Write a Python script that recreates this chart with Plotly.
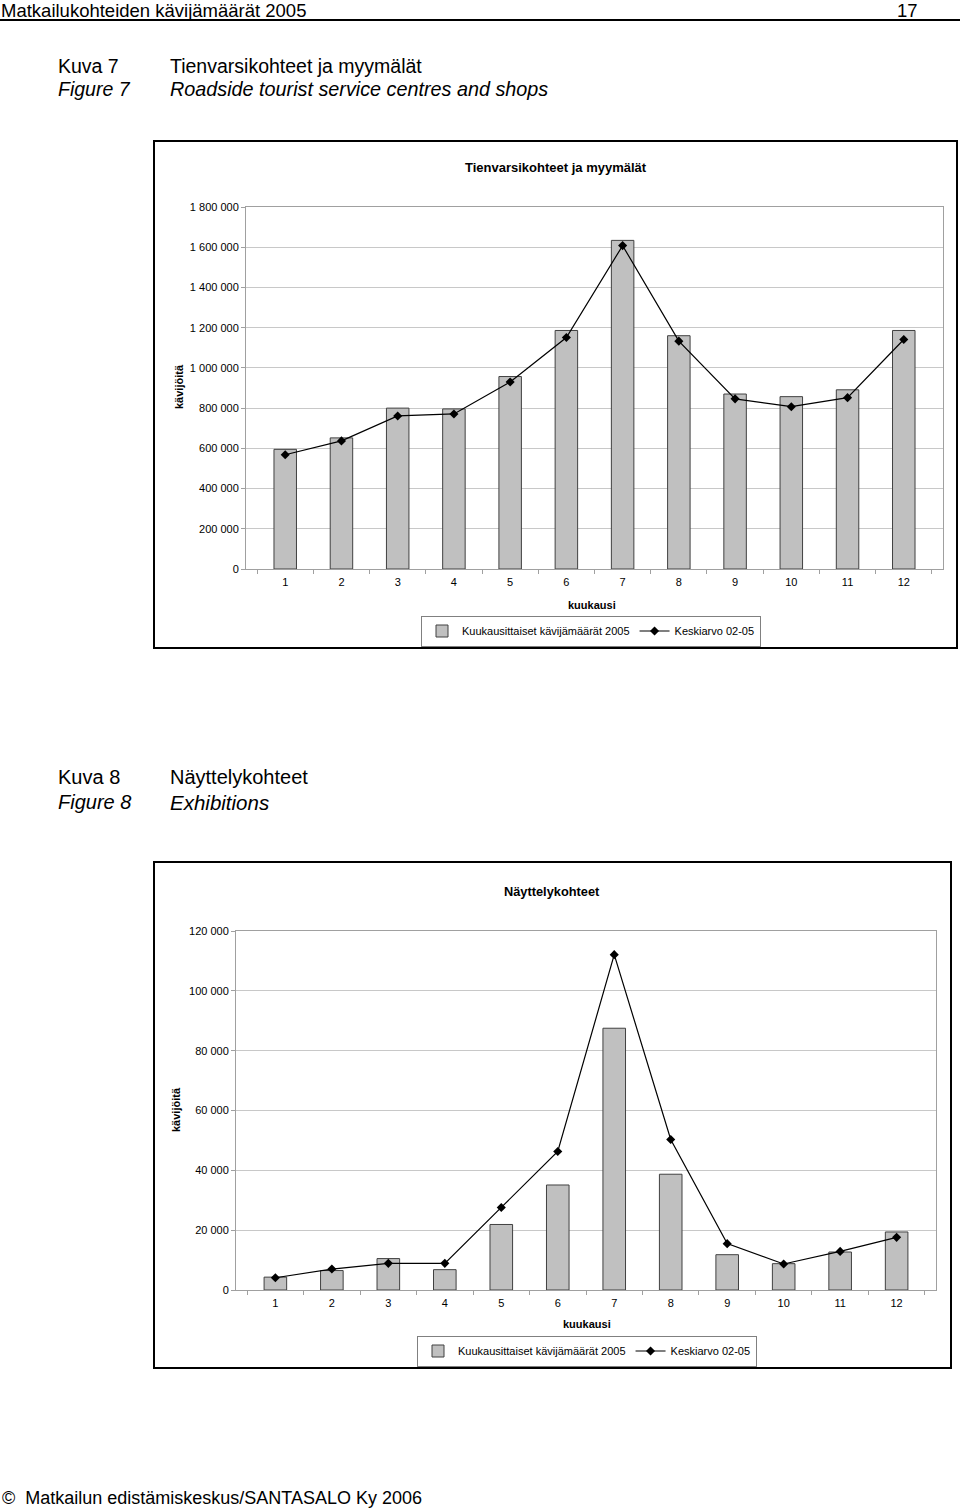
import plotly.graph_objects as go

# ---------------- data ----------------
months = ["1", "2", "3", "4", "5", "6", "7", "8", "9", "10", "11", "12"]

roadside_2005 = [595000, 652000, 800000, 796000, 957000, 1186000,
                 1634000, 1160000, 870000, 857000, 891000, 1186000]
roadside_avg = [568000, 637000, 761000, 771000, 930000, 1151000,
                1608000, 1133000, 846000, 807000, 852000, 1141000]

exhib_2005 = [4300, 6500, 10500, 6800, 21900, 35100,
              87500, 38700, 11800, 8800, 12700, 19400]
exhib_avg = [4100, 7000, 8900, 8900, 27600, 46300,
             112100, 50300, 15500, 8700, 12900, 17600]

top_tickvals = [0, 200000, 400000, 600000, 800000, 1000000,
                1200000, 1400000, 1600000, 1800000]
top_ticktext = ["0", "200 000", "400 000", "600 000", "800 000", "1 000 000",
                "1 200 000", "1 400 000", "1 600 000", "1 800 000"]
bot_tickvals = [0, 20000, 40000, 60000, 80000, 100000, 120000]
bot_ticktext = ["0", "20 000", "40 000", "60 000", "80 000", "100 000", "120 000"]

bar_name = "Kuukausittaiset kävijämäärät 2005"
line_name = "Keskiarvo 02-05"

# ---------------- geometry helpers ----------------
W, H = 960, 1510


def px(x):
    return x / W


def py(y):
    return 1 - y / H


CHART_FONT = "Liberation Sans, Arial, sans-serif"
NARROW_FONT = "Liberation Sans Narrow, Arial Narrow, Liberation Sans, sans-serif"

BAR_FILL = "#c0c0c0"
BAR_LINE = "#404040"
GRID = "#c8c8c8"
AXIS = "#a0a0a0"

fig = go.Figure()

# top chart traces
fig.add_trace(go.Bar(x=months, y=roadside_2005, name=bar_name,
                     marker=dict(color=BAR_FILL, line=dict(color=BAR_LINE, width=1)),
                     xaxis="x", yaxis="y", legend="legend"))
fig.add_trace(go.Scatter(x=months, y=roadside_avg, name=line_name, mode="lines+markers",
                         line=dict(color="black", width=1.2),
                         marker=dict(symbol="diamond", size=7, color="black"),
                         xaxis="x", yaxis="y", legend="legend"))

# bottom chart traces
fig.add_trace(go.Bar(x=months, y=exhib_2005, name=bar_name,
                     marker=dict(color=BAR_FILL, line=dict(color=BAR_LINE, width=1)),
                     xaxis="x2", yaxis="y2", legend="legend2"))
fig.add_trace(go.Scatter(x=months, y=exhib_avg, name=line_name, mode="lines+markers",
                         line=dict(color="black", width=1.2),
                         marker=dict(symbol="diamond", size=7, color="black"),
                         xaxis="x2", yaxis="y2", legend="legend2"))

xaxis_common = dict(type="category", showgrid=False, showline=True, linecolor=AXIS,
                    linewidth=1, mirror=True, ticks="outside", tickson="boundaries",
                    ticklen=4, tickcolor=AXIS, tickfont=dict(size=11, color="black"),
                    ticklabelstandoff=3, fixedrange=True)
yaxis_common = dict(showgrid=True, gridcolor=GRID, gridwidth=1, showline=True,
                    linecolor=AXIS, linewidth=1, mirror=True, ticks="outside",
                    ticklen=4, tickcolor=AXIS, tickfont=dict(size=11, color="black"),
                    zeroline=False, fixedrange=True)

fig.update_layout(
    width=W, height=H,
    margin=dict(l=0, r=0, t=0, b=0, autoexpand=False),
    paper_bgcolor="white", plot_bgcolor="white",
    font=dict(family=CHART_FONT, color="black", size=11),
    bargap=0.6,
    xaxis=dict(domain=[px(246), px(943)], anchor="y", **xaxis_common),
    yaxis=dict(domain=[py(569), py(207)], anchor="x", range=[0, 1800000],
               tickvals=top_tickvals, ticktext=top_ticktext, **yaxis_common),
    xaxis2=dict(domain=[px(236), px(936)], anchor="y2", **xaxis_common),
    yaxis2=dict(domain=[py(1290), py(931)], anchor="x2", range=[0, 120000],
                tickvals=bot_tickvals, ticktext=bot_ticktext, **yaxis_common),
    legend=dict(orientation="h", x=px(591), y=py(631), xanchor="center", yanchor="middle",
                bgcolor="white", bordercolor="#808080", borderwidth=1,
                font=dict(size=11), itemwidth=30, tracegroupgap=0),
    legend2=dict(orientation="h", x=px(587), y=py(1351), xanchor="center", yanchor="middle",
                 bgcolor="white", bordercolor="#808080", borderwidth=1,
                 font=dict(size=11), itemwidth=30, tracegroupgap=0),
    showlegend=True,
)

shapes = [
    # header underline
    dict(type="line", xref="paper", yref="paper", x0=0, x1=1, y0=py(20), y1=py(20),
         line=dict(color="black", width=2)),
    # top chart frame
    dict(type="rect", xref="paper", yref="paper", x0=px(154), x1=px(957), y0=py(648), y1=py(141),
         line=dict(color="black", width=2)),
    # bottom chart frame
    dict(type="rect", xref="paper", yref="paper", x0=px(154), x1=px(951), y0=py(1368), y1=py(862),
         line=dict(color="black", width=2)),
]
fig.update_layout(shapes=shapes)

ann = []


def text(x, y, s, size, xanchor="left", yanchor="middle", family=NARROW_FONT,
         italic=False, bold=False, angle=0):
    if bold:
        s = "<b>" + s + "</b>"
    if italic:
        s = "<i>" + s + "</i>"
    ann.append(dict(x=px(x), y=py(y), xref="paper", yref="paper", text=s, showarrow=False,
                    xanchor=xanchor, yanchor=yanchor, textangle=angle, borderpad=0,
                    font=dict(size=size, family=family, color="black")))


# page header (top-anchored so it stays inside the page)
text(0, -1.5, "Matkailukohteiden kävijämäärät 2005", 18.5, yanchor="top")
text(919, -1.5, "17", 18.5, xanchor="right", yanchor="top")

# figure 7 captions
text(57, 66, "Kuva 7", 19.5)
text(169, 66, "Tienvarsikohteet ja myymälät", 19.5)
text(57, 89, "Figure 7", 19.5, italic=True)
text(169, 89, "Roadside tourist service centres and shops", 19.8, italic=True)

# figure 8 captions
text(57, 777, "Kuva 8", 20, family=CHART_FONT)
text(169, 777, "Näyttelykohteet", 20, family=CHART_FONT)
text(57, 802, "Figure 8", 20, family=CHART_FONT, italic=True)
text(169, 802, "Exhibitions", 20.5, family=CHART_FONT, italic=True)

# chart titles and axis titles
text(556, 168, "Tienvarsikohteet ja myymälät", 13, xanchor="center", family=CHART_FONT, bold=True)
text(592, 605, "kuukausi", 11, xanchor="center", family=CHART_FONT, bold=True)
text(179, 387, "kävijöitä", 11, xanchor="center", family=CHART_FONT, bold=True, angle=-90)

text(552, 892, "Näyttelykohteet", 12.8, xanchor="center", family=CHART_FONT, bold=True)
text(587, 1324, "kuukausi", 11, xanchor="center", family=CHART_FONT, bold=True)
text(176, 1110, "kävijöitä", 11, xanchor="center", family=CHART_FONT, bold=True, angle=-90)

# footer
text(1, 1498, "©  Matkailun edistämiskeskus/SANTASALO Ky 2006", 18, family=CHART_FONT)

fig.update_layout(annotations=ann)

fig.write_html("out.html", config={"displayModeBar": False},
               post_script="document.body.style.margin='0px';")
